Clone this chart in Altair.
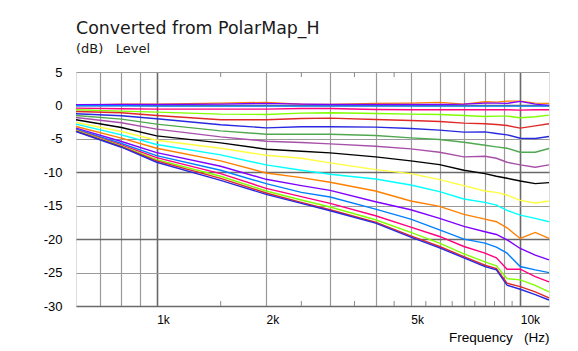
import altair as alt
import pandas as pd

freqs = [600, 800, 1000, 1500, 2000, 2500, 3000, 4000, 5000, 6000, 7000, 8000, 8600, 9200, 10000, 11000, 12000]

angles = ["0°", "5°", "10°", "15°", "20°", "25°", "30°", "35°", "40°", "45°",
          "50°", "55°", "60°", "65°", "70°", "75°", "80°", "85°", "90°"]

s0 = [0.0, 0.2, 0.2, 0.35, 0.45, 0.2, 0.15, 0.3, 0.35, 0.45, 0.2, 0.55, 0.5, 0.65, 0.65, 0.35, 0.3]
s1 = [0.1, 0.15, 0.15, 0.2, 0.3, 0.2, 0.15, 0.15, 0.15, 0.15, 0.2, 0.35, 0.35, 0.3, 0.6, 0.2, 0.0]
s2 = [-0.05, -0.05, -0.1, -0.1, -0.1, -0.1, -0.1, -0.1, -0.1, -0.1, -0.1, -0.1, -0.1, -0.1, -0.1, -0.1, -0.1]
s3 = [-0.4, -0.5, -0.55, -0.55, -0.55, -0.45, -0.45, -0.6, -0.65, -0.65, -0.65, -0.65, -0.65, -0.65, -0.7, -0.65, -0.65]
s4 = [-0.65, -0.85, -1.0, -1.3, -1.35, -1.15, -1.1, -1.2, -1.3, -1.35, -1.5, -1.65, -1.6, -1.6, -1.85, -1.7, -1.45]
s5 = [-0.9, -1.1, -1.5, -2.15, -2.15, -1.95, -1.9, -2.1, -2.25, -2.4, -2.65, -2.75, -2.85, -3.0, -3.4, -3.05, -2.75]
s6 = [-1.25, -1.55, -2.0, -2.9, -3.35, -3.2, -3.2, -3.25, -3.45, -3.7, -4.0, -3.95, -4.2, -4.4, -4.9, -4.95, -4.65]
s7 = [-1.5, -2.05, -2.8, -3.8, -4.3, -4.3, -4.3, -4.5, -4.85, -5.1, -5.5, -5.95, -6.2, -6.4, -7.0, -7.0, -6.45]
s8 = [-1.8, -2.6, -3.55, -4.7, -5.35, -5.55, -5.75, -6.1, -6.5, -7.0, -7.7, -7.6, -7.9, -8.5, -8.9, -9.25, -8.9]
s9 = [-2.15, -3.3, -4.55, -5.6, -6.55, -6.85, -7.1, -7.7, -8.3, -8.85, -9.7, -10.2, -10.6, -10.9, -11.3, -11.7, -11.55]
s10 = [-2.55, -3.9, -5.2, -6.4, -7.45, -7.9, -8.6, -9.6, -10.2, -11.1, -12.0, -12.8, -13.0, -13.4, -14.2, -14.6, -14.3]
s11 = [-2.8, -4.4, -5.85, -7.4, -8.9, -9.7, -10.3, -11.0, -11.9, -12.9, -14.0, -14.5, -14.9, -15.7, -16.4, -16.9, -17.4]
s12 = [-3.15, -4.9, -6.4, -8.3, -10.1, -10.8, -11.5, -12.8, -14.3, -15.1, -16.3, -17.0, -17.4, -18.3, -19.9, -19.0, -19.9]
s13 = [-3.4, -5.4, -7.05, -9.1, -11.05, -12.0, -12.7, -14.4, -15.6, -16.9, -18.1, -18.9, -19.3, -20.1, -21.4, -22.4, -23.1]
s14 = [-3.55, -5.7, -7.5, -9.7, -11.7, -13.0, -13.7, -15.5, -17.0, -18.6, -20.0, -20.6, -21.2, -22.1, -24.1, -24.6, -25.0]
s15 = [-3.65, -5.9, -7.8, -10.2, -12.4, -13.65, -14.65, -16.5, -18.2, -19.6, -21.1, -22.1, -22.8, -24.5, -24.5, -25.6, -26.4]
s16 = [-3.75, -6.05, -8.1, -10.6, -12.8, -14.15, -15.2, -17.1, -19.0, -20.6, -22.2, -23.4, -24.0, -25.9, -26.1, -26.9, -27.9]
s17 = [-3.85, -6.15, -8.3, -10.9, -13.1, -14.5, -15.6, -17.45, -19.5, -21.1, -22.6, -23.9, -24.4, -26.6, -27.1, -27.9, -28.8]
s18 = [-3.9, -6.25, -8.5, -11.2, -13.3, -14.65, -15.75, -17.6, -19.7, -21.3, -22.8, -24.1, -24.6, -26.9, -27.5, -28.3, -29.1]

series = [s0, s1, s2, s3, s4, s5, s6, s7, s8, s9, s10, s11, s12, s13, s14, s15, s16, s17, s18]

palette = ["#ff8000", "#8000ff", "#0080ff", "#ff0080", "#80ff00", "#e02828",
           "#2828e0", "#50a850", "#a850a8", "#000000", "#ffff40", "#00ffff",
           "#ff8000", "#8000ff", "#0080ff", "#ff0080", "#80ff00", "#e02828", "#2828e0"]

grid_freqs = [700, 800, 900, 1000, 2000, 3000, 4000, 5000, 6000, 7000, 8000, 9000, 10000]
minor_bottom = [1500, 2500, 3500, 4500, 5500, 6500, 7500, 8500, 9500]
minor_top = [1500, 2500, 3500, 4500]
y_ticks = [5, 0, -5, -10, -15, -20, -25, -30]

rows = []
for a, vals in zip(angles, series):
    for f, v in zip(freqs, vals):
        rows.append({"freq": f, "db": v, "angle": a})
df = pd.DataFrame(rows)

FONT = "DejaVu Sans"
TXT = "#1a1a1a"
W, H = 473, 234
NB = "\u00a0"

xscale = alt.Scale(type="log", domain=[600, 12000], nice=False)
yscale = alt.Scale(domain=[-30, 5], nice=False)

lines = alt.Chart(df).mark_line(strokeWidth=1.4).encode(
    x=alt.X("freq:Q", scale=xscale,
            axis=alt.Axis(values=grid_freqs,
                          labelExpr="datum.value == 1000 ? '1k' : datum.value == 2000 ? '2k' : datum.value == 5000 ? '5k' : datum.value == 10000 ? '10k' : ''",
                          grid=True,
                          gridColor={"condition": {"test": "datum.value == 1000 || datum.value == 10000", "value": "#6a6a6a"}, "value": "#9a9a9a"},
                          gridWidth={"condition": {"test": "datum.value == 1000 || datum.value == 10000", "value": 1.6}, "value": 1.2},
                          ticks=False, domain=False,
                          labelAlign="left", labelPadding=8, labelFlush=False, labelFontSize=12,
                          title="Frequency" + NB * 3 + "(Hz)", titleAnchor="end", titleAlign="right",
                          titlePadding=5, titleFontWeight="normal", titleFontSize=13.5)),
    y=alt.Y("db:Q", scale=yscale,
            axis=alt.Axis(values=y_ticks, labelExpr="'' + datum.value",
                          grid=True,
                          gridColor={"condition": {"test": "datum.value % 10 == 0", "value": "#6a6a6a"}, "value": "#9a9a9a"},
                          gridWidth={"condition": {"test": "datum.value % 10 == 0", "value": 1.6}, "value": 1.2},
                          ticks=False, domain=False, labelPadding=14, labelFontSize=13, title="")),
    color=alt.Color("angle:N", scale=alt.Scale(domain=angles, range=palette), legend=None),
    order=alt.Order("freq:Q"),
)

bottom_ticks = alt.Chart(pd.DataFrame({"freq": minor_bottom})).mark_rule(color="#8a8a8a", strokeWidth=1).encode(
    x=alt.X("freq:Q", scale=xscale),
    y=alt.value(H), y2=alt.value(H - 5),
)
top_ticks = alt.Chart(pd.DataFrame({"freq": minor_top})).mark_rule(color="#8a8a8a", strokeWidth=1).encode(
    x=alt.X("freq:Q", scale=xscale),
    y=alt.value(0), y2=alt.value(5),
)

chart = alt.layer(bottom_ticks, top_ticks, lines).properties(
    width=W, height=H,
    autosize=alt.AutoSizeParams(type="none"),
    padding={"left": 76, "top": 72, "right": 578 - 76 - W, "bottom": 351 - 72 - H},
    title=alt.TitleParams(text="Converted from PolarMap_H", subtitle="(dB)" + NB * 3 + "Level",
                          anchor="start", frame="group", font=FONT, fontSize=17.4,
                          fontWeight="normal", color=TXT, subtitleFont=FONT,
                          subtitleFontSize=13, subtitleColor=TXT, subtitlePadding=6, offset=10),
).configure_view(
    stroke="#666666", strokeWidth=2
).configure_axis(
    labelFont=FONT, labelColor=TXT,
    titleFont=FONT, titleColor=TXT
).configure(background="white")

chart.save("out.html", embed_options={"renderer": "svg", "actions": False})
